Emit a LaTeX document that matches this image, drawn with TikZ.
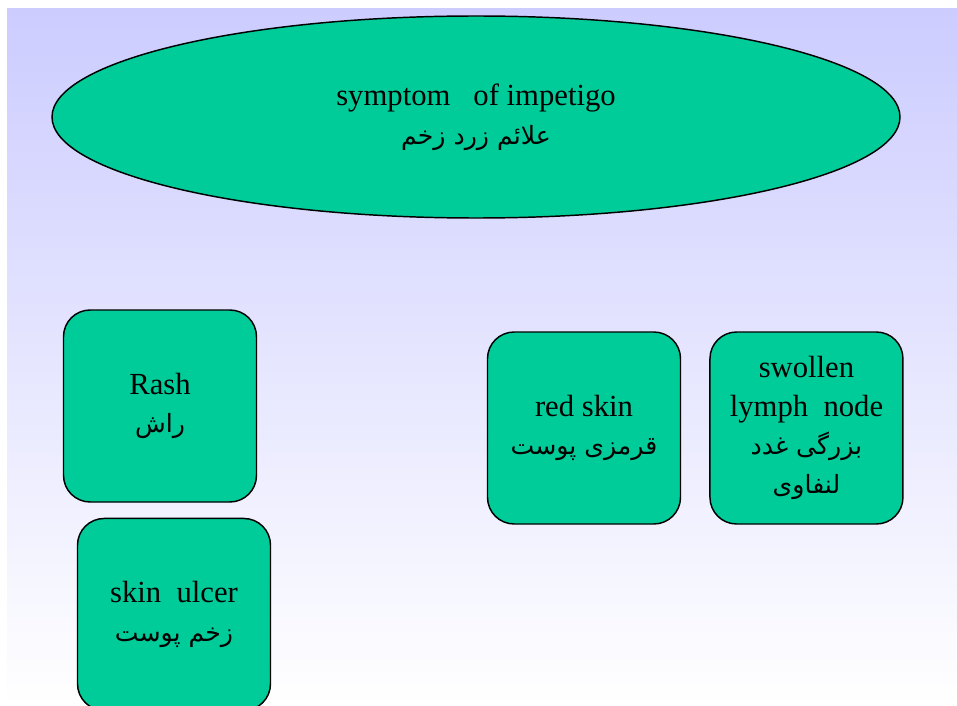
\documentclass[tikz,border=0pt]{standalone}
\usepackage{fontspec}
\setmainfont{Liberation Serif}
\newfontfamily\arabicfont[Script=Arabic,Scale=0.82]{DejaVu Sans}
\TeXXeTstate=1
\usetikzlibrary{positioning,shapes.geometric}
\definecolor{signgreen}{RGB}{0,204,153}
\definecolor{skyback}{RGB}{204,204,255}
\newcommand{\fa}[1]{{\arabicfont\beginR #1\endR}}

\begin{document}
\begin{tikzpicture}[x=0.75pt, y=-0.75pt,
  sign/.style={draw=black, line width=1.1pt, fill=signgreen, rounded corners=20pt,
    minimum width=144.75pt, minimum height=144pt, inner sep=0pt, align=center,
    font=\fontsize{23}{29}\selectfont},
  title/.style={ellipse, draw=black, line width=1.1pt, fill=signgreen,
    minimum width=636pt, minimum height=151.5pt, inner sep=0pt, align=center,
    font=\fontsize{23}{29}\selectfont}]
  \useasboundingbox (0,0) rectangle (957,706);
  \shade[top color=skyback, bottom color=white] (7,9) rectangle (957,706);

  \node[title] (impetigo) at (476,117) {symptom\ \ \ of impetigo\\ \fa{علائم زرد زخم}};

  \node[sign] (rash) at (160,406) {Rash\\ \fa{راش}};
  \node[sign, below=11.25pt of rash, xshift=10.5pt] (ulcer) {skin\ \ ulcer\\ \fa{زخم پوست}};
  \node[sign] (redskin) at (584,428) {red skin\\ \fa{قرمزی پوست}};
  \node[sign, right=21pt of redskin] (swollen) {swollen\\ lymph\ \ node\\ \fa{بزرگی غدد}\\ \fa{لنفاوی}};
\end{tikzpicture}
\end{document}
